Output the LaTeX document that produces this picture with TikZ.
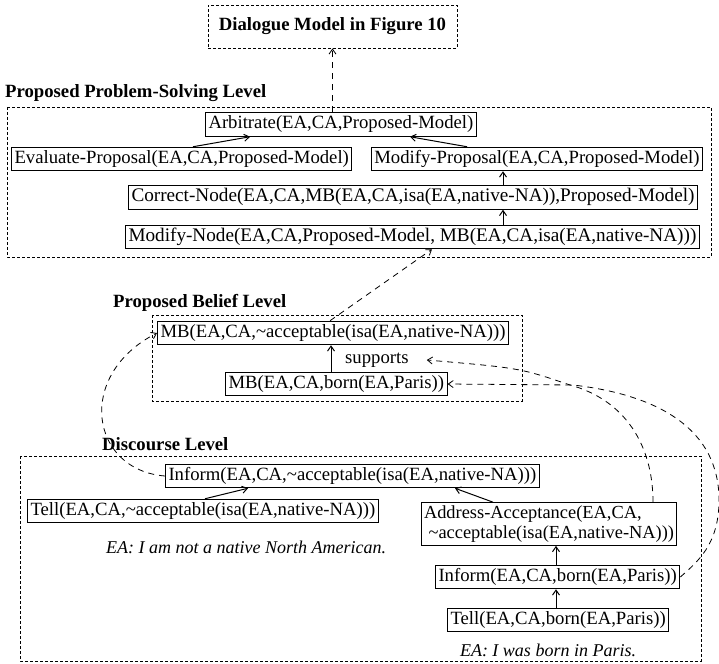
\documentclass[tikz,border=0pt]{standalone}
\usepackage{fontspec}
\setmainfont{Liberation Serif}
\usetikzlibrary{arrows.meta}
\tikzset{
  txt/.style={font=\fontsize{18.7}{20}\selectfont},
  note/.style={font=\fontsize{18}{20}\selectfont\itshape, inner sep=0pt},
  lab/.style={font=\fontsize{18.7}{22}\selectfont\bfseries, inner sep=0pt},
  box/.style={txt, draw, line width=1pt, inner sep=3pt, text height=13pt, text depth=4.5pt},
  widebox/.style={box, font=\fontsize{19.2}{21}\selectfont},
  levelbox/.style={draw, line width=0.9pt, dash pattern=on 3pt off 2pt},
  arr/.style={-{Straight Barb[length=5pt,width=7pt]}, line width=1pt},
  dlink/.style={-{Straight Barb[length=5pt,width=7pt]}, line width=0.8pt, dash pattern=on 6pt off 5pt},
}
\begin{document}
\begin{tikzpicture}[x=1pt,y=-1pt]
\useasboundingbox (0,0) rectangle (719,663);

% top-level dialogue model
\node[lab, levelbox, minimum width=249pt, minimum height=43pt] (dia) at (332.5,26.5) {Dialogue Model in Figure 10};

% proposed problem-solving level
\node[lab, anchor=base west] (pslab) at (5,98) {Proposed Problem-Solving Level};
\draw[levelbox] (7,107) rectangle (711,257);
\node[box, anchor=west] (arb) at (205,124.5) {Arbitrate(EA,CA,Proposed-Model)};
\node[box, anchor=west] (eval) at (11,159) {Evaluate-Proposal(EA,CA,Proposed-Model)};
\node[box, anchor=east] (modprop) at (703,159) {Modify-Proposal(EA,CA,Proposed-Model)};
\node[widebox, anchor=west] (corr) at (128,197.5) {Correct-Node(EA,CA,MB(EA,CA,isa(EA,native-NA)),Proposed-Model)};
\node[widebox, anchor=west] (modnode) at (125,237) {Modify-Node(EA,CA,Proposed-Model, MB(EA,CA,isa(EA,native-NA)))};

% proposed belief level
\node[lab, anchor=base west] (pblab) at (113,307) {Proposed Belief Level};
\draw[levelbox] (152,315) rectangle (522,401);
\node[box, anchor=west] (mbacc) at (157,333) {MB(EA,CA,\textasciitilde acceptable(isa(EA,native-NA)))};
\node[txt, anchor=west, inner sep=0pt] (sup) at (345,360) {supports};
\node[box, anchor=west] (mbborn) at (225,384) {MB(EA,CA,born(EA,Paris))};

% discourse level
\node[lab, anchor=base west] (dllab) at (102,450) {Discourse Level};
\draw[levelbox] (20,456) rectangle (701,661);
\node[box, anchor=west] (infacc) at (165,476) {Inform(EA,CA,\textasciitilde acceptable(isa(EA,native-NA)))};
\node[box, anchor=west] (tellacc) at (27,511) {Tell(EA,CA,\textasciitilde acceptable(isa(EA,native-NA)))};
\node[note] (utt1) at (246,547) {EA: I am not a native North American.};
\node[font=\fontsize{18.4}{20}\selectfont, draw, line width=1pt, inner xsep=2.5pt, inner ysep=3pt, align=left, anchor=west] (addr) at (421,524)
  {Address-Acceptance(EA,CA,\\\hspace*{0.25em}\textasciitilde acceptable(isa(EA,native-NA)))};
\node[box, anchor=west] (infborn) at (435,577) {Inform(EA,CA,born(EA,Paris))};
\node[box, anchor=west] (tellborn) at (447,620) {Tell(EA,CA,born(EA,Paris))};
\node[note] (utt2) at (548,650) {EA: I was born in Paris.};

% solid links
\draw[arr] (eval.north -| 193,0) -- (arb.south -| 250,0);
\draw[arr] (modprop.north -| 467,0) -- (arb.south -| 410,0);
\draw[arr] (corr.north -| 503,0) -- (modprop.south -| 503,0);
\draw[arr] (modnode.north -| 503,0) -- (corr.south -| 503,0);
\draw[arr] (mbborn.north -| 331,0) -- (mbacc.south -| 331,0);
\draw[arr] (tellacc.north -| 205,0) -- (infacc.south -| 248,0);
\draw[arr] (addr.north -| 493,0) -- (infacc.south -| 455,0);
\draw[arr] (infborn.north -| 556,0) -- (addr.south -| 556,0);
\draw[arr] (tellborn.north -| 556,0) -- (infborn.south -| 556,0);

% dashed links between levels
\draw[dlink] (dia.south |- arb.north) -- (dia.south);
\draw[dlink] (mbacc.north -| 330,0) -- (modnode.south -| 432,0);
\draw[dlink] (infacc.west) .. controls (90,470) and (75,375) .. (mbacc.west);
\draw[dlink] (addr.north -| 653,0) .. controls (653,445) and (625,400) .. (570,385)
  .. controls (520,368) .. ([xshift=18pt]sup.east);
\draw[dlink] (infborn.east) .. controls (697,562) and (719,545) .. (719,500)
  .. controls (719,430) and (660,395) .. (573,385) -- (mbborn.east);
\end{tikzpicture}
\end{document}
